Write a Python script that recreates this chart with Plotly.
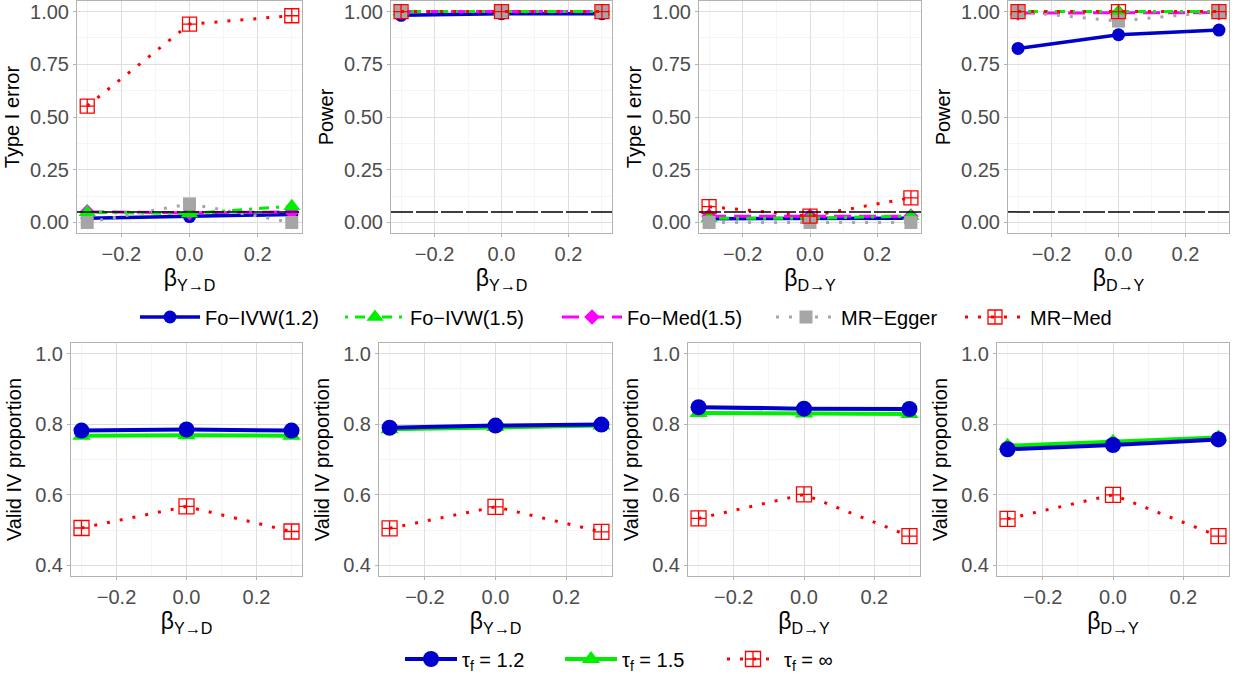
import plotly.graph_objects as go

W, H = 1239, 674

# ---------------- data ----------------
beta_vals = [-0.3, 0.0, 0.3]
alpha_level = 0.05

method_names = ["Fo−IVW(1.2)", "Fo−IVW(1.5)", "Fo−Med(1.5)", "MR−Egger", "MR−Med"]
tau_names = ["τ<sub>f</sub> = 1.2", "τ<sub>f</sub> = 1.5", "τ<sub>f</sub> = ∞"]

# Top row, panel 1: Type I error vs beta Y->D
p1_ivw12 = [0.02, 0.028, 0.038]
p1_ivw15 = [0.048, 0.042, 0.077]
p1_med15 = [0.05, 0.046, 0.05]
p1_egger = [0.0, 0.088, 0.0]
p1_mrmed = [0.552, 0.94, 0.98]

# Top row, panel 2: Power vs beta Y->D
p2_ivw12 = [0.982, 0.99, 0.99]
p2_ivw15 = [1.0, 1.0, 1.0]
p2_med15 = [1.0, 1.0, 1.0]
p2_egger = [1.0, 1.0, 1.0]
p2_mrmed = [1.0, 1.0, 1.0]

# Top row, panel 3: Type I error vs beta D->Y
p3_ivw12 = [0.018, 0.018, 0.02]
p3_ivw15 = [0.02, 0.02, 0.03]
p3_med15 = [0.03, 0.03, 0.03]
p3_egger = [0.0, 0.0, 0.0]
p3_mrmed = [0.075, 0.03, 0.117]

# Top row, panel 4: Power vs beta D->Y
p4_ivw12 = [0.825, 0.89, 0.912]
p4_ivw15 = [1.0, 1.0, 1.0]
p4_med15 = [0.993, 0.993, 0.995]
p4_egger = [1.0, 0.955, 1.0]
p4_mrmed = [1.0, 1.0, 1.0]

# Bottom row: valid IV proportion
b1_tau12 = [0.782, 0.785, 0.782]
b1_tau15 = [0.767, 0.769, 0.767]
b1_tauinf = [0.506, 0.567, 0.496]

b2_tau12 = [0.79, 0.796, 0.799]
b2_tau15 = [0.786, 0.792, 0.796]
b2_tauinf = [0.505, 0.566, 0.495]

b3_tau12 = [0.848, 0.844, 0.843]
b3_tau15 = [0.832, 0.83, 0.829]
b3_tauinf = [0.533, 0.601, 0.483]

b4_tau12 = [0.729, 0.741, 0.757]
b4_tau15 = [0.739, 0.75, 0.762]
b4_tauinf = [0.532, 0.6, 0.483]

top_ylabels = ["Type I error", "Power", "Type I error", "Power"]
top_xlabels = ["β<sub>Y→D</sub>", "β<sub>Y→D</sub>", "β<sub>D→Y</sub>", "β<sub>D→Y</sub>"]
bot_ylabel = "Valid IV proportion"

top_data = [
    [p1_ivw12, p1_ivw15, p1_med15, p1_egger, p1_mrmed],
    [p2_ivw12, p2_ivw15, p2_med15, p2_egger, p2_mrmed],
    [p3_ivw12, p3_ivw15, p3_med15, p3_egger, p3_mrmed],
    [p4_ivw12, p4_ivw15, p4_med15, p4_egger, p4_mrmed],
]
bot_data = [
    [b1_tau12, b1_tau15, b1_tauinf],
    [b2_tau12, b2_tau15, b2_tauinf],
    [b3_tau12, b3_tau15, b3_tauinf],
    [b4_tau12, b4_tau15, b4_tauinf],
]

# ---------------- styles ----------------
BLUE = "#0000CD"
GREEN = "#00EE00"
MAGENTA = "#FF00FF"
GRAY = "#A6A6A6"
RED = "#FF0000"

method_styles = [
    dict(line=dict(color=BLUE, width=3.5, dash="solid"),
         marker=dict(symbol="circle", size=13, color=BLUE)),
    dict(line=dict(color=GREEN, width=3, dash="3px,7px,10px,7px"),
         marker=dict(symbol="triangle-up", size=15, color=GREEN)),
    dict(line=dict(color=MAGENTA, width=3, dash="17px,8px"),
         marker=dict(symbol="diamond", size=12, color=MAGENTA)),
    dict(line=dict(color=GRAY, width=3, dash="3px,10px"),
         marker=dict(symbol="square", size=13, color=GRAY)),
    dict(line=dict(color=RED, width=3, dash="3px,10px"),
         marker=dict(symbol="square-cross-open", size=14, color=RED,
                     line=dict(width=1.3, color=RED))),
]
draw_order = [0, 2, 1, 3, 4]  # blue, magenta, green, gray, red
# index 0: tau=1.2 (blue), 1: tau=1.5 (green), 2: tau=inf (red)
tau_styles = [
    dict(line=dict(color=BLUE, width=4, dash="solid"),
         marker=dict(symbol="circle", size=16, color=BLUE)),
    dict(line=dict(color=GREEN, width=4, dash="solid"),
         marker=dict(symbol="triangle-up", size=16, color=GREEN)),
    dict(line=dict(color=RED, width=3, dash="3px,10px"),
         marker=dict(symbol="square-cross-open", size=15, color=RED,
                     line=dict(width=1.3, color=RED))),
]

FONT = "Liberation Sans, Arial, sans-serif"
TICK_COLOR = "#4D4D4D"
BORDER = "#B3B3B3"
GRID_MAJ = "#DEDEDE"
GRID_MIN = "#EFEFEF"
TXT = 20

top_xdom = [(77, 302), (391, 612), (699, 921), (1008, 1229)]
bot_xdom = [(71, 302), (379, 612), (688, 920), (997, 1229)]
top_ydom = (1, 233)
bot_ydom = (343, 576)

# legend anchor positions (pixels: left of symbol, vertical center)
top_leg_x = [135, 340, 557, 771, 960]
top_leg_y = 317
bot_leg_x = [400, 560, 722]
bot_leg_y = 659


def xd(a):
    return [a[0] / W, a[1] / W]


def yd(a):
    return [1 - a[1] / H, 1 - a[0] / H]


fig = go.Figure()
layout = {}
shapes = []

for i in range(4):
    ax = 2 * i + 1
    xa = "x" if ax == 1 else f"x{ax}"
    ya = "y" if ax == 1 else f"y{ax}"
    for k in draw_order:
        st = method_styles[k]
        fig.add_trace(go.Scatter(
            x=beta_vals, y=top_data[i][k], mode="lines+markers",
            name=method_names[k], line=st["line"], marker=st["marker"],
            xaxis=xa, yaxis=ya, showlegend=(i == 0),
            legend="legend" if k == 0 else f"legend{k + 1}",
            hoverinfo="skip"))
    shapes.append(dict(type="line", xref=f"{xa} domain", yref=ya,
                       x0=0, x1=1, y0=alpha_level, y1=alpha_level,
                       line=dict(color="black", width=1.5, dash="22px,3px"),
                       layer="above"))
    ax2 = 2 * i + 2
    xb = f"x{ax2}"
    yb = f"y{ax2}"
    for k in [1, 0, 2]:  # green drawn first, then blue, then red
        st = tau_styles[k]
        fig.add_trace(go.Scatter(
            x=beta_vals, y=bot_data[i][k], mode="lines+markers",
            name=tau_names[k], line=st["line"], marker=st["marker"],
            xaxis=xb, yaxis=yb, showlegend=(i == 0),
            legend=f"legend{6 + k}", hoverinfo="skip"))

    common_x = dict(
        range=[-0.33, 0.33], tick0=0, dtick=0.2, tickformat=".1f",
        showgrid=True, gridcolor=GRID_MAJ, gridwidth=1,
        minor=dict(dtick=0.1, tick0=0, showgrid=True, gridcolor=GRID_MIN, gridwidth=0.6),
        zeroline=False, showline=True, mirror=True, linecolor=BORDER, linewidth=1,
        ticks="outside", ticklen=3, tickcolor=BORDER, automargin=False,
        tickfont=dict(size=TXT, color=TICK_COLOR, family=FONT),
    )
    common_y = dict(
        showgrid=True, gridcolor=GRID_MAJ, gridwidth=1,
        zeroline=False, showline=True, mirror=True, linecolor=BORDER, linewidth=1,
        ticks="outside", ticklen=3, tickcolor=BORDER, automargin=False,
        tickfont=dict(size=TXT, color=TICK_COLOR, family=FONT),
    )
    layout["xaxis" if ax == 1 else f"xaxis{ax}"] = dict(
        common_x, domain=xd(top_xdom[i]), anchor=ya,
        title=dict(text=top_xlabels[i], font=dict(size=23, color="black", family=FONT), standoff=3))
    layout["yaxis" if ax == 1 else f"yaxis{ax}"] = dict(
        common_y, domain=yd(top_ydom), anchor=xa,
        range=[-0.05, 1.05], tick0=0, dtick=0.25, tickformat=".2f",
        minor=dict(dtick=0.125, tick0=0, showgrid=True, gridcolor=GRID_MIN, gridwidth=0.6),
        title=dict(text=top_ylabels[i], font=dict(size=TXT, color="black", family=FONT), standoff=5))
    layout[f"xaxis{ax2}"] = dict(
        common_x, domain=xd(bot_xdom[i]), anchor=yb,
        title=dict(text=top_xlabels[i], font=dict(size=23, color="black", family=FONT), standoff=3))
    layout[f"yaxis{ax2}"] = dict(
        common_y, domain=yd(bot_ydom), anchor=xb,
        range=[0.37, 1.03], tick0=0.4, dtick=0.2, tickformat=".1f",
        minor=dict(dtick=0.1, tick0=0.4, showgrid=True, gridcolor=GRID_MIN, gridwidth=0.6),
        title=dict(text=bot_ylabel, font=dict(size=TXT, color="black", family=FONT), standoff=8))

# individual legends, one per entry, placed like the reference
for k in range(5):
    key = "legend" if k == 0 else f"legend{k + 1}"
    layout[key] = dict(
        x=top_leg_x[k] / W, xanchor="left", y=1 - top_leg_y / H, yanchor="middle",
        font=dict(size=TXT, color="black", family=FONT), itemwidth=60,
        bgcolor="rgba(0,0,0,0)", borderwidth=0)
for k in range(3):
    layout[f"legend{6 + k}"] = dict(
        x=bot_leg_x[k] / W, xanchor="left", y=1 - bot_leg_y / H, yanchor="middle",
        font=dict(size=TXT, color="black", family=FONT), itemwidth=52,
        bgcolor="rgba(0,0,0,0)", borderwidth=0)

fig.update_layout(
    width=W, height=H,
    margin=dict(l=0, r=0, t=0, b=0, autoexpand=False),
    paper_bgcolor="white", plot_bgcolor="white",
    font=dict(family=FONT, size=TXT, color="black"),
    shapes=shapes,
    hovermode=False,
    **layout,
)

fig.write_html("out.html", config={"displayModeBar": False, "staticPlot": True},
               post_script="document.body.style.margin='0';")
